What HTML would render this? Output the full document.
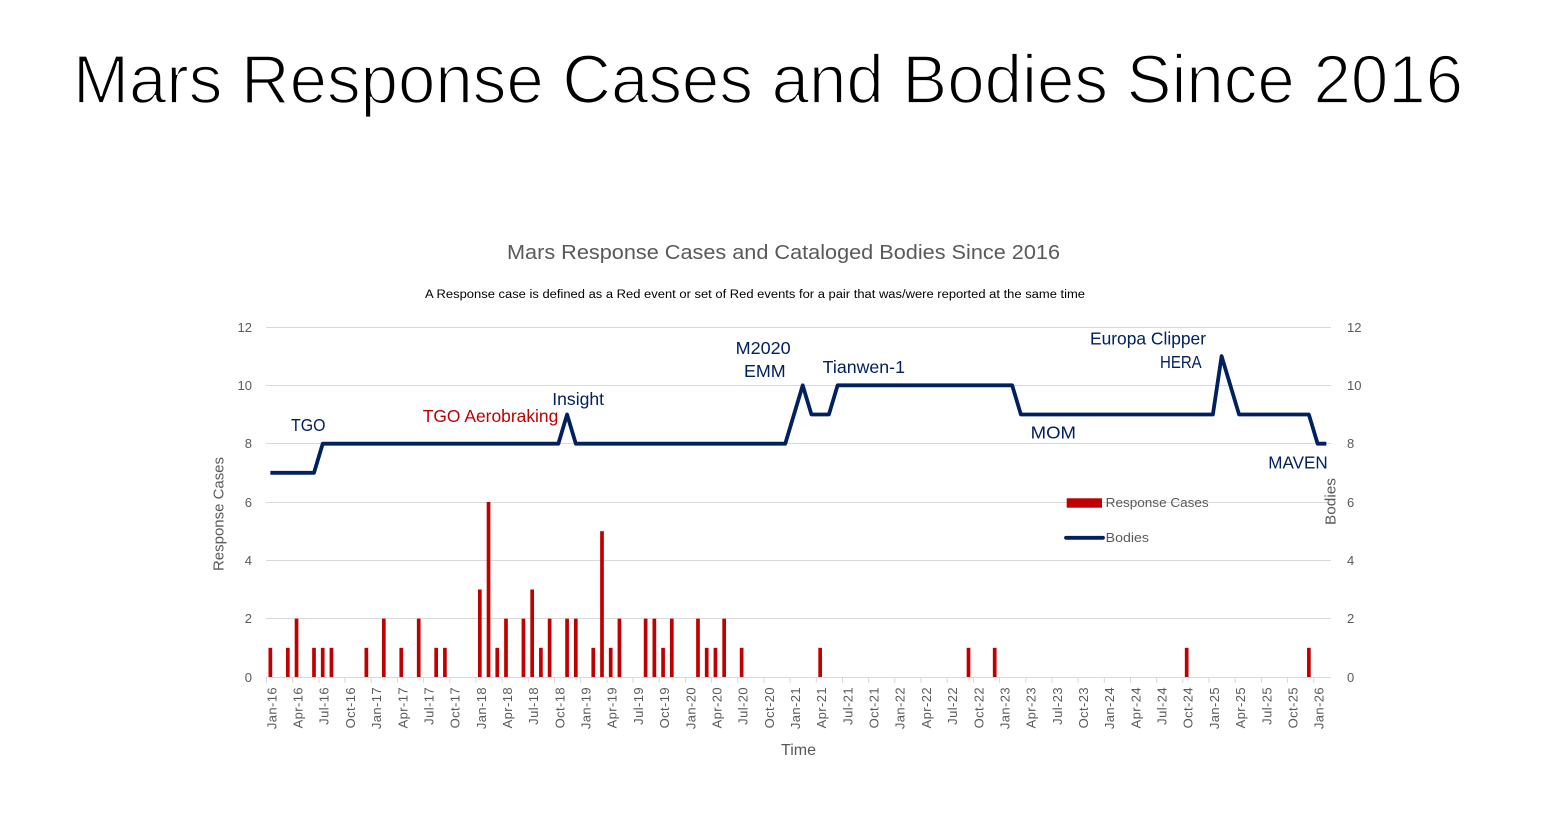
<!DOCTYPE html>
<html>
<head>
<meta charset="utf-8">
<style>
html,body{margin:0;padding:0;background:#fff;}
svg{display:block;}
text{font-family:"Liberation Sans",Arial,sans-serif;}
</style>
</head>
<body>
<svg width="1548" height="815" viewBox="0 0 1548 815" xmlns="http://www.w3.org/2000/svg">
<rect width="1548" height="815" fill="#fff"/>
<!-- Main title -->
<text x="73" y="103" font-size="69" fill="#000" stroke="#fff" stroke-width="1.8" textLength="1390" lengthAdjust="spacingAndGlyphs">Mars Response Cases and Bodies Since 2016</text>
<!-- Chart title -->
<text x="507" y="259" font-size="20" fill="#595959" textLength="553" lengthAdjust="spacingAndGlyphs">Mars Response Cases and Cataloged Bodies Since 2016</text>
<text x="425" y="298" font-size="11.5" fill="#000" textLength="660" lengthAdjust="spacingAndGlyphs">A Response case is defined as a Red event or set of Red events for a pair that was/were reported at the same time</text>

<!-- gridlines -->
<g stroke="#d9d9d9" stroke-width="1">
<line x1="266" y1="327.5" x2="1331" y2="327.5"/>
<line x1="266" y1="385.5" x2="1331" y2="385.5"/>
<line x1="266" y1="443.5" x2="1331" y2="443.5"/>
<line x1="266" y1="502.5" x2="1331" y2="502.5"/>
<line x1="266" y1="560.5" x2="1331" y2="560.5"/>
<line x1="266" y1="618.5" x2="1331" y2="618.5"/>
<line x1="266" y1="677.5" x2="1331" y2="677.5"/>
</g>
<!-- ticks -->
<g stroke="#d9d9d9" stroke-width="1">
<path d="M266.5 677V683M292.7 677V683M318.9 677V683M345 677V683M371.2 677V683M397.4 677V683M423.6 677V683M449.8 677V683M475.9 677V683M502.1 677V683M528.3 677V683M554.5 677V683M580.7 677V683M606.9 677V683M633 677V683M659.2 677V683M685.4 677V683M711.6 677V683M737.8 677V683M763.9 677V683M790.1 677V683M816.3 677V683M842.5 677V683M868.7 677V683M894.8 677V683M921 677V683M947.2 677V683M973.4 677V683M999.6 677V683M1025.8 677V683M1051.9 677V683M1078.1 677V683M1104.3 677V683M1130.5 677V683M1156.7 677V683M1182.8 677V683M1209 677V683M1235.2 677V683M1261.4 677V683M1287.6 677V683M1313.7 677V683"/>
</g>

<!-- left y labels -->
<g font-size="13" fill="#595959" text-anchor="end">
<text x="252" y="332">12</text>
<text x="252" y="390">10</text>
<text x="252" y="448">8</text>
<text x="252" y="507">6</text>
<text x="252" y="565">4</text>
<text x="252" y="623">2</text>
<text x="252" y="682">0</text>
</g>
<!-- right y labels -->
<g font-size="13" fill="#595959">
<text x="1347" y="332">12</text>
<text x="1347" y="390">10</text>
<text x="1347" y="448">8</text>
<text x="1347" y="507">6</text>
<text x="1347" y="565">4</text>
<text x="1347" y="623">2</text>
<text x="1347" y="682">0</text>
</g>

<!-- axis titles -->
<text transform="translate(223.5,514) rotate(-90)" font-size="15" fill="#595959" text-anchor="middle" textLength="114" lengthAdjust="spacingAndGlyphs">Response Cases</text>
<text transform="translate(1335.5,501.5) rotate(-90)" font-size="15" fill="#595959" text-anchor="middle" textLength="47" lengthAdjust="spacingAndGlyphs">Bodies</text>
<text x="798.5" y="755" font-size="16" fill="#595959" text-anchor="middle" textLength="35" lengthAdjust="spacingAndGlyphs">Time</text>

<!-- bars -->
<g fill="#c00000">
<rect x="268.5" y="647.83" width="3.7" height="29.17"/>
<rect x="285.96" y="647.83" width="3.7" height="29.17"/>
<rect x="294.69" y="618.67" width="3.7" height="58.33"/>
<rect x="312.14" y="647.83" width="3.7" height="29.17"/>
<rect x="320.87" y="647.83" width="3.7" height="29.17"/>
<rect x="329.6" y="647.83" width="3.7" height="29.17"/>
<rect x="364.51" y="647.83" width="3.7" height="29.17"/>
<rect x="381.96" y="618.67" width="3.7" height="58.33"/>
<rect x="399.42" y="647.83" width="3.7" height="29.17"/>
<rect x="416.87" y="618.67" width="3.7" height="58.33"/>
<rect x="434.32" y="647.83" width="3.7" height="29.17"/>
<rect x="443.05" y="647.83" width="3.7" height="29.17"/>
<rect x="477.96" y="589.5" width="3.7" height="87.5"/>
<rect x="486.69" y="502" width="3.7" height="175"/>
<rect x="495.41" y="647.83" width="3.7" height="29.17"/>
<rect x="504.14" y="618.67" width="3.7" height="58.33"/>
<rect x="521.59" y="618.67" width="3.7" height="58.33"/>
<rect x="530.32" y="589.5" width="3.7" height="87.5"/>
<rect x="539.05" y="647.83" width="3.7" height="29.17"/>
<rect x="547.77" y="618.67" width="3.7" height="58.33"/>
<rect x="565.23" y="618.67" width="3.7" height="58.33"/>
<rect x="573.95" y="618.67" width="3.7" height="58.33"/>
<rect x="591.41" y="647.83" width="3.7" height="29.17"/>
<rect x="600.14" y="531.17" width="3.7" height="145.83"/>
<rect x="608.86" y="647.83" width="3.7" height="29.17"/>
<rect x="617.59" y="618.67" width="3.7" height="58.33"/>
<rect x="643.77" y="618.67" width="3.7" height="58.33"/>
<rect x="652.5" y="618.67" width="3.7" height="58.33"/>
<rect x="661.23" y="647.83" width="3.7" height="29.17"/>
<rect x="669.95" y="618.67" width="3.7" height="58.33"/>
<rect x="696.13" y="618.67" width="3.7" height="58.33"/>
<rect x="704.86" y="647.83" width="3.7" height="29.17"/>
<rect x="713.59" y="647.83" width="3.7" height="29.17"/>
<rect x="722.31" y="618.67" width="3.7" height="58.33"/>
<rect x="739.77" y="647.83" width="3.7" height="29.17"/>
<rect x="818.31" y="647.83" width="3.7" height="29.17"/>
<rect x="966.67" y="647.83" width="3.7" height="29.17"/>
<rect x="992.85" y="647.83" width="3.7" height="29.17"/>
<rect x="1184.84" y="647.83" width="3.7" height="29.17"/>
<rect x="1307.02" y="647.83" width="3.7" height="29.17"/>
</g>

<!-- bodies line -->
<polyline fill="none" stroke="#002060" stroke-width="3.8" stroke-linejoin="round" stroke-linecap="butt"
points="270.36,472.83 313.99,472.83 322.72,443.67 558.35,443.67 567.08,414.5 575.80,443.67 785.25,443.67 802.71,385.33 811.43,414.5 828.89,414.5 837.62,385.33 1012.16,385.33 1020.88,414.5 1212.88,414.5 1221.60,356.17 1239.06,414.5 1308.87,414.5 1317.60,443.67 1326.33,443.67"/>

<!-- annotations -->
<g font-size="17.5" fill="#002060">
<text x="291" y="431" textLength="34.5" lengthAdjust="spacingAndGlyphs">TGO</text>
<text x="552.3" y="405" textLength="51.7" lengthAdjust="spacingAndGlyphs">Insight</text>
<text x="735.7" y="354" textLength="55" lengthAdjust="spacingAndGlyphs">M2020</text>
<text x="744" y="377" textLength="41.7" lengthAdjust="spacingAndGlyphs">EMM</text>
<text x="822.7" y="373" textLength="82.3" lengthAdjust="spacingAndGlyphs">Tianwen-1</text>
<text x="1030.7" y="438.5" textLength="45.3" lengthAdjust="spacingAndGlyphs">MOM</text>
<text x="1090" y="344.3" textLength="116" lengthAdjust="spacingAndGlyphs">Europa Clipper</text>
<text x="1160" y="368" textLength="41.7" lengthAdjust="spacingAndGlyphs">HERA</text>
<text x="1268.3" y="468.5" textLength="59.4" lengthAdjust="spacingAndGlyphs">MAVEN</text>
</g>
<text x="422.7" y="422" font-size="17.5" fill="#c00000" textLength="135.6" lengthAdjust="spacingAndGlyphs">TGO Aerobraking</text>

<!-- legend -->
<rect x="1066.7" y="498.3" width="35.3" height="9.4" fill="#c00000"/>
<text x="1105.7" y="507" font-size="13" fill="#595959" textLength="103" lengthAdjust="spacingAndGlyphs">Response Cases</text>
<line x1="1066" y1="537.8" x2="1103" y2="537.8" stroke="#002060" stroke-width="3.8" stroke-linecap="round"/>
<text x="1105.7" y="542" font-size="13" fill="#595959" textLength="43.3" lengthAdjust="spacingAndGlyphs">Bodies</text>

<!-- x labels -->
<g font-size="13" fill="#595959" text-anchor="end" letter-spacing="0.4">
<text transform="translate(276.4,687) rotate(-90)">Jan-16</text>
<text transform="translate(302.5,687) rotate(-90)">Apr-16</text>
<text transform="translate(328.7,687) rotate(-90)">Jul-16</text>
<text transform="translate(354.9,687) rotate(-90)">Oct-16</text>
<text transform="translate(381.1,687) rotate(-90)">Jan-17</text>
<text transform="translate(407.3,687) rotate(-90)">Apr-17</text>
<text transform="translate(433.5,687) rotate(-90)">Jul-17</text>
<text transform="translate(459.6,687) rotate(-90)">Oct-17</text>
<text transform="translate(485.8,687) rotate(-90)">Jan-18</text>
<text transform="translate(512,687) rotate(-90)">Apr-18</text>
<text transform="translate(538.2,687) rotate(-90)">Jul-18</text>
<text transform="translate(564.4,687) rotate(-90)">Oct-18</text>
<text transform="translate(590.5,687) rotate(-90)">Jan-19</text>
<text transform="translate(616.7,687) rotate(-90)">Apr-19</text>
<text transform="translate(642.9,687) rotate(-90)">Jul-19</text>
<text transform="translate(669.1,687) rotate(-90)">Oct-19</text>
<text transform="translate(695.3,687) rotate(-90)">Jan-20</text>
<text transform="translate(721.5,687) rotate(-90)">Apr-20</text>
<text transform="translate(747.6,687) rotate(-90)">Jul-20</text>
<text transform="translate(773.8,687) rotate(-90)">Oct-20</text>
<text transform="translate(800,687) rotate(-90)">Jan-21</text>
<text transform="translate(826.2,687) rotate(-90)">Apr-21</text>
<text transform="translate(852.4,687) rotate(-90)">Jul-21</text>
<text transform="translate(878.5,687) rotate(-90)">Oct-21</text>
<text transform="translate(904.7,687) rotate(-90)">Jan-22</text>
<text transform="translate(930.9,687) rotate(-90)">Apr-22</text>
<text transform="translate(957.1,687) rotate(-90)">Jul-22</text>
<text transform="translate(983.3,687) rotate(-90)">Oct-22</text>
<text transform="translate(1009.4,687) rotate(-90)">Jan-23</text>
<text transform="translate(1035.6,687) rotate(-90)">Apr-23</text>
<text transform="translate(1061.8,687) rotate(-90)">Jul-23</text>
<text transform="translate(1088,687) rotate(-90)">Oct-23</text>
<text transform="translate(1114.2,687) rotate(-90)">Jan-24</text>
<text transform="translate(1140.4,687) rotate(-90)">Apr-24</text>
<text transform="translate(1166.5,687) rotate(-90)">Jul-24</text>
<text transform="translate(1192.7,687) rotate(-90)">Oct-24</text>
<text transform="translate(1218.9,687) rotate(-90)">Jan-25</text>
<text transform="translate(1245.1,687) rotate(-90)">Apr-25</text>
<text transform="translate(1271.3,687) rotate(-90)">Jul-25</text>
<text transform="translate(1297.4,687) rotate(-90)">Oct-25</text>
<text transform="translate(1323.6,687) rotate(-90)">Jan-26</text>
</g>
</svg>
</body>
</html>
